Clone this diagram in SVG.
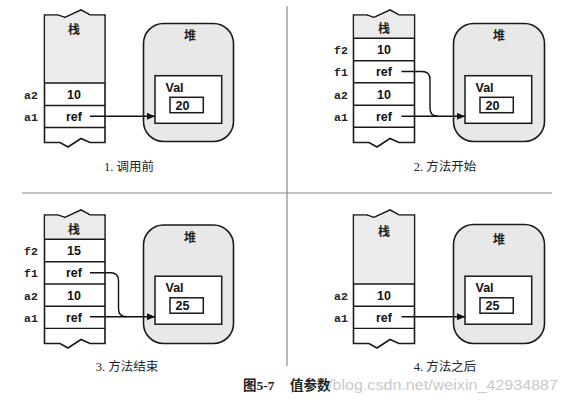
<svg xmlns="http://www.w3.org/2000/svg" width="569" height="404" viewBox="0 0 569 404">
<defs>
<style>
.bg{fill:#ffffff}
.stk{fill:#ffffff;stroke:#1a1a1a;stroke-width:1.6;stroke-linejoin:miter}
.stkgray{fill:#ebebeb;stroke:none}
.row{stroke:#1a1a1a;stroke-width:1.4;fill:none}
.heap{fill:#e8e8e8;stroke:#1a1a1a;stroke-width:1.6}
.box{fill:#ffffff;stroke:#1a1a1a;stroke-width:1.5}
.cjk{font-family:"Noto Sans CJK SC",sans-serif;font-weight:bold;font-size:12px;fill:#222;text-anchor:middle}
.val{font-family:"Liberation Sans",Arial,sans-serif;font-weight:bold;font-size:12.5px;fill:#111}
.mid{text-anchor:middle}
.lbl{font-family:"Liberation Mono","DejaVu Sans Mono",monospace;font-weight:bold;font-size:11.5px;fill:#222}
.cap{font-family:"Liberation Serif","Noto Sans CJK SC",serif;font-size:12.5px;fill:#222;text-anchor:middle}
.fig{font-family:"Liberation Serif","Noto Sans CJK SC",serif;font-weight:bold;font-size:13.5px;fill:#222}
.wm{font-family:"Liberation Sans",Arial,sans-serif;font-size:15px;fill:#c9c9c9}
.div{stroke:#8a8a8a;stroke-width:1.2}
.conn{fill:none;stroke:#111;stroke-width:1.4}
</style>
<marker id="ah" markerUnits="userSpaceOnUse" markerWidth="9" markerHeight="8" refX="8" refY="3.5" orient="auto">
<path d="M0,0 L8,3.5 L0,7 Z" fill="#111"/>
</marker>
</defs>
<rect class="bg" x="0" y="0" width="569" height="404"/>

<!-- dividers -->
<g id="dividers">
<line class="div" x1="287" y1="6" x2="287" y2="366"/>
<line class="div" x1="22" y1="193" x2="552" y2="193"/>
</g>

<!-- Panel 1 -->
<g id="panel1">
<g id="p1-stack">
<path class="stk" d="M44.5,15 L58,15 L65,17.5 L81,10 L90,15 L105,15 L105,142.5 L90,142.5 L81,138.5 L68,147 L60,142.5 L44.5,142.5 Z"/>
<path class="stkgray" d="M45.3,15.8 L58,15.8 L65,18.3 L81,10.9 L90,15.8 L104.2,15.8 L104.2,83 L45.3,83 Z"/>
<line class="row" x1="44.5" y1="83" x2="105" y2="83"/>
<line class="row" x1="44.5" y1="105.5" x2="105" y2="105.5"/>
<line class="row" x1="44.5" y1="127.5" x2="105" y2="127.5"/>
<text class="cjk" x="74" y="34">栈</text>
<text class="val mid" x="74" y="98.5">10</text>
<text class="val mid" x="74" y="120.5">ref</text>
<text class="lbl" x="24" y="98.5">a2</text>
<text class="lbl" x="24" y="120.5">a1</text>
</g>
<g id="p1-heap">
<rect class="heap" x="143.5" y="23.5" width="90" height="118" rx="20"/>
<text class="cjk" x="190" y="40">堆</text>
<rect class="box" x="155" y="75.7" width="66.7" height="47.6"/>
<text class="val" x="165.5" y="91.5">Val</text>
<rect class="box" x="170" y="97.3" width="33.3" height="15.4"/>
<text class="val" x="175.5" y="109.8">20</text>
</g>
<g id="p1-connectors">
<path class="conn" d="M90,116.3 L155,116.3" marker-end="url(#ah)"/>
</g>
<text class="cap" x="129" y="171">1. 调用前</text>
</g>

<!-- Panel 2 -->
<g id="panel2">
<g id="p2-stack">
<path class="stk" d="M353.5,15 L367,15 L374,17.5 L390,10 L399,15 L414.5,15 L414.5,142.5 L399,142.5 L390,138.5 L377,147 L369,142.5 L353.5,142.5 Z"/>
<path class="stkgray" d="M354.3,15.8 L367,15.8 L374,18.3 L390,10.9 L399,15.8 L413.7,15.8 L413.7,38.3 L354.3,38.3 Z"/>
<line class="row" x1="353.5" y1="38.3" x2="414.5" y2="38.3"/>
<line class="row" x1="353.5" y1="60.7" x2="414.5" y2="60.7"/>
<line class="row" x1="353.5" y1="82.8" x2="414.5" y2="82.8"/>
<line class="row" x1="353.5" y1="105.2" x2="414.5" y2="105.2"/>
<line class="row" x1="353.5" y1="127.3" x2="414.5" y2="127.3"/>
<text class="cjk" x="384" y="33">栈</text>
<text class="val mid" x="384" y="54">10</text>
<text class="val mid" x="384" y="76">ref</text>
<text class="val mid" x="384" y="98.5">10</text>
<text class="val mid" x="384" y="120.5">ref</text>
<text class="lbl" x="334" y="54">f2</text>
<text class="lbl" x="334" y="76">f1</text>
<text class="lbl" x="334" y="98.5">a2</text>
<text class="lbl" x="334" y="120.5">a1</text>
</g>
<g id="p2-heap">
<rect class="heap" x="453.5" y="23.5" width="91" height="118" rx="20"/>
<text class="cjk" x="499" y="40">堆</text>
<rect class="box" x="465" y="75.7" width="66.7" height="47.6"/>
<text class="val" x="475.5" y="91.5">Val</text>
<rect class="box" x="480" y="97.3" width="33.3" height="15.4"/>
<text class="val" x="485.5" y="109.8">20</text>
</g>
<g id="p2-connectors">
<path class="conn" d="M401.5,71.5 L422,71.5 Q430,71.5 430,79.5 L430,108.3 Q430,116.3 438,116.3"/>
<path class="conn" d="M401.5,116.3 L465,116.3" marker-end="url(#ah)"/>
</g>
<text class="cap" x="445" y="171">2. 方法开始</text>
</g>

<!-- Panel 3 -->
<g id="panel3">
<g id="p3-stack">
<path class="stk" d="M44.5,215 L58,215 L65,217.5 L81,210 L90,215 L105,215 L105,343.5 L90,343.5 L81,339.5 L68,348 L60,343.5 L44.5,343.5 Z"/>
<path class="stkgray" d="M45.3,215.8 L58,215.8 L65,218.3 L81,210.9 L90,215.8 L104.2,215.8 L104.2,239.3 L45.3,239.3 Z"/>
<line class="row" x1="44.5" y1="239.3" x2="105" y2="239.3"/>
<line class="row" x1="44.5" y1="261.7" x2="105" y2="261.7"/>
<line class="row" x1="44.5" y1="284" x2="105" y2="284"/>
<line class="row" x1="44.5" y1="306.2" x2="105" y2="306.2"/>
<line class="row" x1="44.5" y1="328.4" x2="105" y2="328.4"/>
<text class="cjk" x="74" y="234">栈</text>
<text class="val mid" x="74" y="255">15</text>
<text class="val mid" x="74" y="277">ref</text>
<text class="val mid" x="74" y="299.5">10</text>
<text class="val mid" x="74" y="321.5">ref</text>
<text class="lbl" x="24" y="255">f2</text>
<text class="lbl" x="24" y="277">f1</text>
<text class="lbl" x="24" y="299.5">a2</text>
<text class="lbl" x="24" y="321.5">a1</text>
</g>
<g id="p3-heap">
<rect class="heap" x="143.5" y="225" width="90" height="118.5" rx="20"/>
<text class="cjk" x="190" y="242">堆</text>
<rect class="box" x="155" y="276.2" width="66.7" height="48"/>
<text class="val" x="165.5" y="292">Val</text>
<rect class="box" x="170" y="297.8" width="33.3" height="15.4"/>
<text class="val" x="175.5" y="310.3">25</text>
</g>
<g id="p3-connectors">
<path class="conn" d="M90,272.7 L110.5,272.7 Q118.5,272.7 118.5,280.7 L118.5,308.7 Q118.5,316.7 126.5,316.7"/>
<path class="conn" d="M90,316.7 L155,316.7" marker-end="url(#ah)"/>
</g>
<text class="cap" x="127" y="370.5">3. 方法结束</text>
</g>

<!-- Panel 4 -->
<g id="panel4">
<g id="p4-stack">
<path class="stk" d="M353.5,215 L367,215 L374,217.5 L390,210 L399,215 L414.5,215 L414.5,343.5 L399,343.5 L390,339.5 L377,348 L369,343.5 L353.5,343.5 Z"/>
<path class="stkgray" d="M354.3,215.8 L367,215.8 L374,218.3 L390,210.9 L399,215.8 L413.7,215.8 L413.7,284 L354.3,284 Z"/>
<line class="row" x1="353.5" y1="284" x2="414.5" y2="284"/>
<line class="row" x1="353.5" y1="306.2" x2="414.5" y2="306.2"/>
<line class="row" x1="353.5" y1="328.4" x2="414.5" y2="328.4"/>
<text class="cjk" x="384" y="236">栈</text>
<text class="val mid" x="384" y="299.5">10</text>
<text class="val mid" x="384" y="321.5">ref</text>
<text class="lbl" x="334" y="299.5">a2</text>
<text class="lbl" x="334" y="321.5">a1</text>
</g>
<g id="p4-heap">
<rect class="heap" x="453.5" y="224.5" width="91" height="119" rx="20"/>
<text class="cjk" x="499" y="244">堆</text>
<rect class="box" x="465" y="276.2" width="66.7" height="48"/>
<text class="val" x="475.5" y="292">Val</text>
<rect class="box" x="480" y="297.8" width="33.3" height="15.4"/>
<text class="val" x="485.5" y="310.3">25</text>
</g>
<g id="p4-connectors">
<path class="conn" d="M401.5,316.7 L465,316.7" marker-end="url(#ah)"/>
</g>
<text class="cap" x="445" y="370.5">4. 方法之后</text>
</g>

<!-- figure caption -->
<text class="fig" x="243" y="390">图5-7</text>
<text class="fig" x="290" y="390">值参数</text>
<text class="wm" x="328" y="390" textLength="230" lengthAdjust="spacingAndGlyphs">/blog.csdn.net/weixin_42934887</text>
</svg>
